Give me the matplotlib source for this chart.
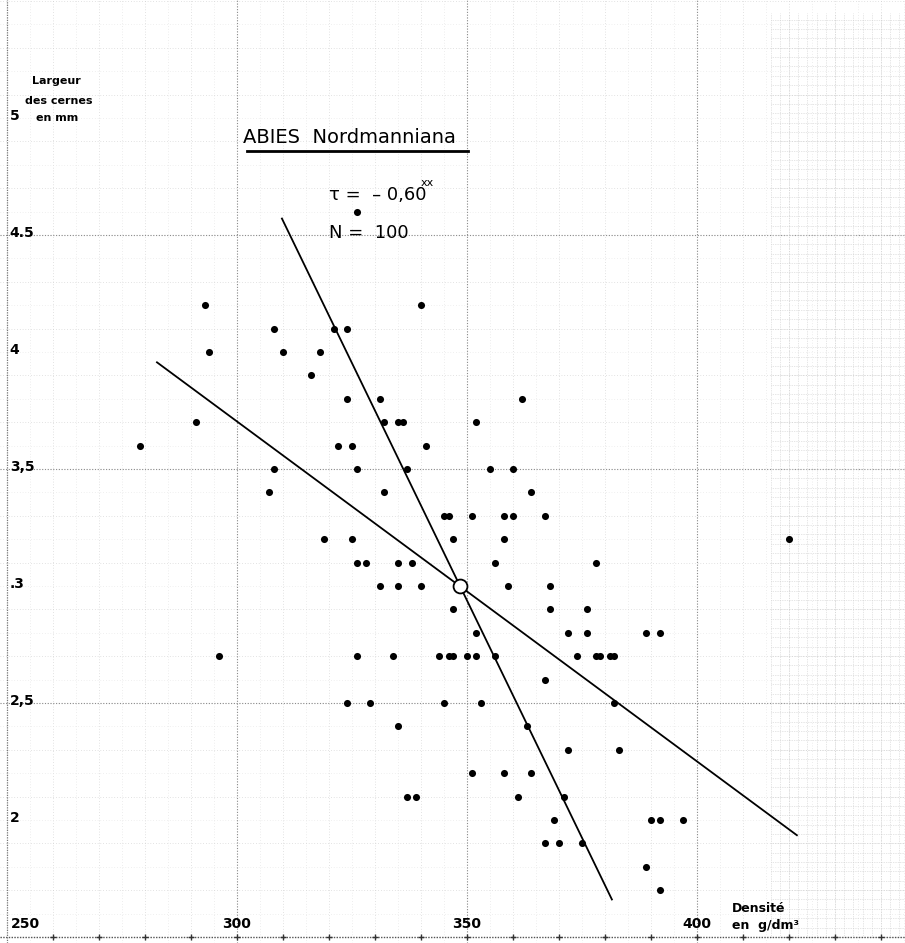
import numpy as np
import matplotlib
matplotlib.use("Agg")
from matplotlib import pyplot as plt

# density (g/dm3) and ring width (mm), row by row
density = [326, 293, 340, 308, 321, 324, 294, 310, 318, 316,
           324, 331, 362, 291, 332, 335, 336, 352, 279, 322,
           325, 341, 308, 326, 337, 355, 360, 307, 332, 364,
           345, 346, 351, 358, 360, 367, 319, 325, 347, 358,
           326, 328, 335, 338, 356, 378, 331, 335, 340, 359,
           368, 347, 368, 376, 352, 372, 376, 389, 392, 296,
           326, 334, 344, 346, 347, 350, 352, 356, 374, 378,
           379, 381, 382, 367, 324, 329, 345, 353, 382, 335,
           363, 372, 383, 351, 358, 364, 337, 339, 361, 371,
           369, 390, 392, 397, 367, 370, 375, 389, 392, 420]
width = [4.6, 4.2, 4.2, 4.1, 4.1, 4.1, 4.0, 4.0, 4.0, 3.9,
         3.8, 3.8, 3.8, 3.7, 3.7, 3.7, 3.7, 3.7, 3.6, 3.6,
         3.6, 3.6, 3.5, 3.5, 3.5, 3.5, 3.5, 3.4, 3.4, 3.4,
         3.3, 3.3, 3.3, 3.3, 3.3, 3.3, 3.2, 3.2, 3.2, 3.2,
         3.1, 3.1, 3.1, 3.1, 3.1, 3.1, 3.0, 3.0, 3.0, 3.0,
         3.0, 2.9, 2.9, 2.9, 2.8, 2.8, 2.8, 2.8, 2.8, 2.7,
         2.7, 2.7, 2.7, 2.7, 2.7, 2.7, 2.7, 2.7, 2.7, 2.7,
         2.7, 2.7, 2.7, 2.6, 2.5, 2.5, 2.5, 2.5, 2.5, 2.4,
         2.4, 2.3, 2.3, 2.2, 2.2, 2.2, 2.1, 2.1, 2.1, 2.1,
         2.0, 2.0, 2.0, 2.0, 1.9, 1.9, 1.9, 1.8, 1.7, 3.2]

x_ticks = [250, 300, 350, 400]
x_labels = ['250', '300', '350', '400']
y_ticks = [5, 4.5, 4, 3.5, 3, 2.5, 2]
y_labels = ['5', '4.5', '4', '3,5', '.3', '2,5', '2']

# drawn extent of the two regression lines
yx_range = [282.6, 421.7]   # width on density, over density
xy_range = [4.57, 1.66]     # density on width, over width

x = np.array(density, float)
y = np.array(width, float)
mx, my = x.mean(), y.mean()
b_yx = np.polyfit(x, y, 1)[0]
b_xy = np.polyfit(y, x, 1)[0]

fig = plt.figure(figsize=(9.05, 9.43), dpi=100)
ax = fig.add_axes([0, 0, 1, 1])
ax.set_xlim(248.48, 445.2)
ax.set_ylim(1.474, 5.504)
ax.axis('off')

## graph paper (faint, like the scan)
dot = (0, (1, 3))
for gx in np.arange(250, 446, 5):
    c = '#dedede' if gx % 10 else '#c8c8c8'
    ax.axvline(gx, color=c, lw=0.5, ls=dot, zorder=0)
for gy in np.arange(1.5, 5.51, 0.1):
    c = '#c8c8c8' if round(gy * 10) % 2 == 1 else '#e2e2e2'
    ax.axhline(gy, color=c, lw=0.5, ls=dot, zorder=0)
for gx in [300, 350, 400]:
    ax.axvline(gx, color='#8c8c8c', lw=0.8, ls=(0, (1, 1.5)), zorder=0)
for gy in [2.5, 3.5, 4.5]:
    ax.axhline(gy, color='#8c8c8c', lw=0.8, ls=(0, (1, 1.5)), zorder=0)

# dense texture on the right edge of the scan
for gx in np.arange(416, 446, 2):
    ax.plot([gx, gx], [1.5, 5.45], color='#cdcdcd', lw=0.5, ls=(0, (1, 1.5)), zorder=0)
for gy in np.arange(1.5, 5.45, 0.04):
    ax.plot([416, 445.2], [gy, gy], color='#cdcdcd', lw=0.5, ls=(0, (1, 1.5)), zorder=0)

# axes
ax.axhline(1.5, color='#555555', lw=1.0, ls=(0, (1, 1)), zorder=1)
ax.axvline(250, color='#777777', lw=0.9, ls=(0, (1, 1)), zorder=1)
ax.plot(np.arange(260, 441, 10), np.full(19, 1.5), '+', color='#333333', ms=5, mew=1, zorder=1)

## data
ax.scatter(x, y, s=26, color='black', zorder=3, linewidths=0)

xr = np.array(yx_range)
ax.plot(xr, my + b_yx * (xr - mx), color='black', lw=1.3, zorder=2)
yr = np.array(xy_range)
ax.plot(mx + b_xy * (yr - my), yr, color='black', lw=1.3, zorder=2)
ax.plot([mx], [my], 'o', mfc='white', mec='black', ms=10, mew=1.3, zorder=4)

## labels
for v, t in zip(x_ticks, x_labels):
    ax.text(v + (0.8 if v == 250 else 0), 1.555, t, ha='left' if v == 250 else 'center',
            va='center', fontsize=10, fontweight='bold')
for v, t in zip(y_ticks, y_labels):
    ax.text(250.6, v + 0.01, t, ha='left', va='center', fontsize=10, fontweight='bold')

ax.text(260.8, 5.145, 'Largeur', ha='center', fontsize=8, fontweight='bold')
ax.text(261.2, 5.06, 'des cernes', ha='center', fontsize=8, fontweight='bold')
ax.text(260.8, 4.985, 'en mm', ha='center', fontsize=8, fontweight='bold')

ax.text(324.5, 4.875, 'ABIES  Nordmanniana', ha='center', va='bottom', fontsize=14)
ax.plot([302.2, 350.3], [4.86, 4.86], color='black', lw=2)
ax.text(320.0, 4.67, 'τ =  – 0,60', ha='left', va='center', fontsize=13)
ax.text(340.0, 4.72, 'xx', ha='left', va='center', fontsize=8)
ax.text(320.0, 4.51, 'N =  100', ha='left', va='center', fontsize=13)

ax.text(407.5, 1.62, 'Densité', ha='left', va='center', fontsize=9, fontweight='bold')
ax.text(407.5, 1.55, 'en  g/dm³', ha='left', va='center', fontsize=9, fontweight='bold')

fig.savefig('out.png', dpi=100)
